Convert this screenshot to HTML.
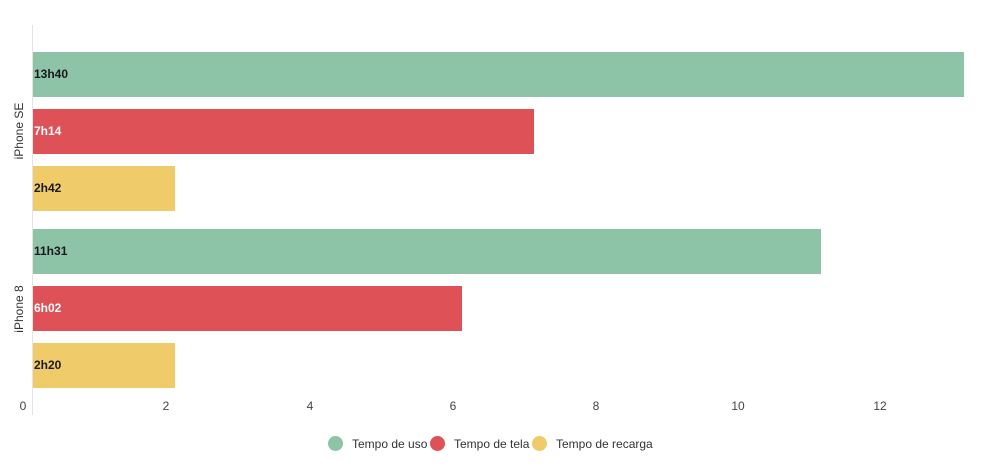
<!DOCTYPE html>
<html><head><style>
body{margin:0;width:1000px;height:472px;background:#fff;font-family:"Liberation Sans",sans-serif;position:relative;overflow:hidden}
.b{position:absolute;left:33px;height:45px;font-size:12px;font-weight:bold;line-height:45px;padding-left:1px;box-sizing:border-box}
.g{background:#8dc3a7;color:#1a1a1a}.r{background:#de5257;color:#fff}.y{background:#efcb6a;color:#1a1a1a}
.t{position:absolute;top:399px;font-size:12px;color:#444;transform:translateX(-50%)}
.yl{position:absolute;font-size:12px;color:#333;transform:translate(-50%,-50%) rotate(-90deg);white-space:nowrap}
.lg{position:absolute;top:436px;font-size:12px;color:#333;display:flex;align-items:center}
.lg i{display:inline-block;width:15px;height:15px;border-radius:50%;margin-right:9px}
</style></head><body>
<div style="position:absolute;left:32px;top:25px;width:1px;height:390px;background:#e4e4e4"></div>
<div class="b g" style="top:52px;width:931px">13h40</div>
<div class="b r" style="top:109px;width:501px">7h14</div>
<div class="b y" style="top:166px;width:142px">2h42</div>
<div class="b g" style="top:229px;width:788px">11h31</div>
<div class="b r" style="top:286px;width:429px">6h02</div>
<div class="b y" style="top:343px;width:142px">2h20</div>
<div class="yl" style="left:19px;top:131px">iPhone SE</div>
<div class="yl" style="left:19px;top:309px">iPhone 8</div>
<div class="t" style="left:23px">0</div><div class="t" style="left:166px">2</div><div class="t" style="left:310px">4</div><div class="t" style="left:453px">6</div><div class="t" style="left:596px">8</div><div class="t" style="left:738px">10</div><div class="t" style="left:880px">12</div>
<div class="lg" style="left:328px"><i style="background:#8dc3a7"></i>Tempo de uso</div>
<div class="lg" style="left:430px"><i style="background:#de5257"></i>Tempo de tela</div>
<div class="lg" style="left:532px"><i style="background:#efcb6a"></i>Tempo de recarga</div>
</body></html>
